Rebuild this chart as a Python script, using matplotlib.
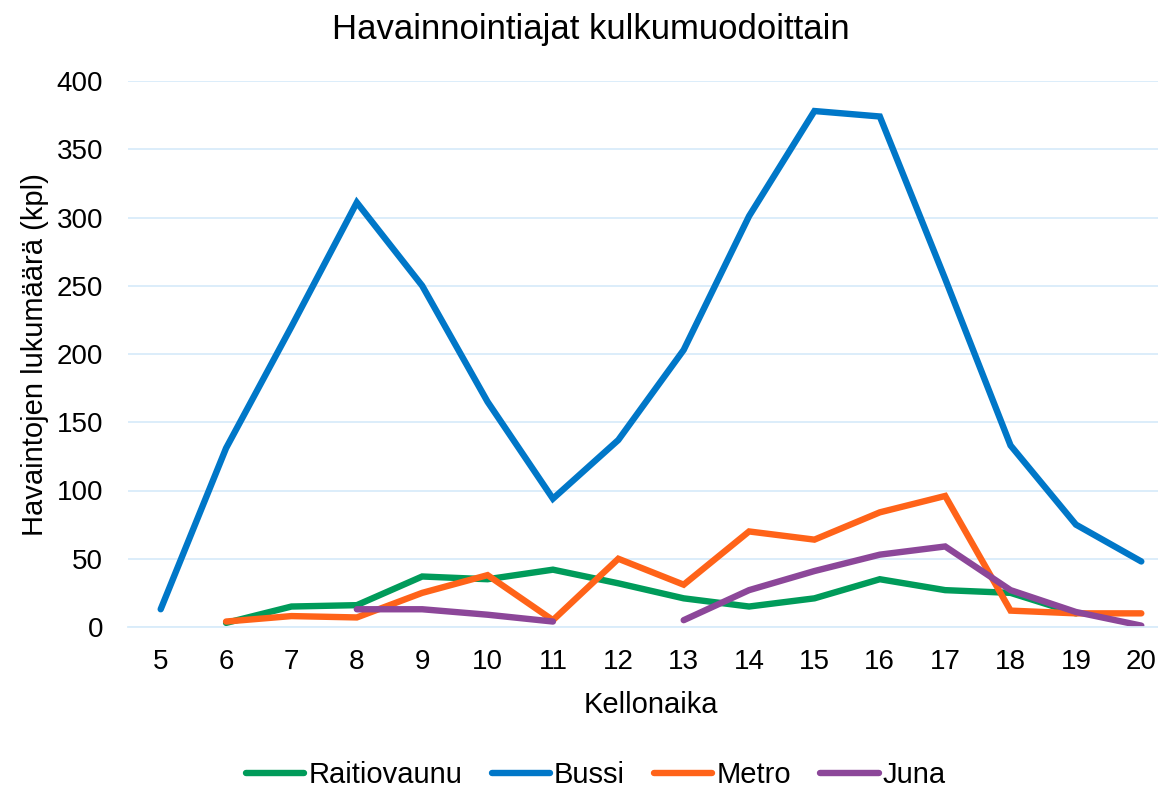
import matplotlib
matplotlib.use("Agg")
import matplotlib.pyplot as plt
import numpy as np

hours = [5, 6, 7, 8, 9, 10, 11, 12, 13, 14, 15, 16, 17, 18, 19, 20]
raitiovaunu = [None, 3, 15, 16, 37, 35, 42, 32, 21, 15, 21, 35, 27, 25, 10, None]
bussi = [13, 131, 220, 311, 250, 165, 94, 137, 203, 301, 378, 374, 255, 133, 75, 48]
metro = [None, 4, 8, 7, 25, 38, 5, 50, 31, 70, 64, 84, 96, 12, 10, 10]
juna = [None, None, None, 13, 13, 9, 4, None, 5, 27, 41, 53, 59, 27, 11, 1]

series = [("Raitiovaunu", raitiovaunu, "#009B5A"),
          ("Bussi", bussi, "#0077C8"),
          ("Metro", metro, "#FF6319"),
          ("Juna", juna, "#8C4799")]

plt.rcParams['font.family'] = ['Liberation Sans', 'DejaVu Sans']

fig = plt.figure(figsize=(11.58, 7.88), dpi=100)
ax = fig.add_axes([128/1158, 1-627/788, (1174-128)/1158, (627-81)/788])

for name, vals, col in series:
    y = np.array([np.nan if v is None else v for v in vals], dtype=float)
    ax.plot(hours, y, color=col, lw=4.6, label=name,
            solid_capstyle='round', solid_joinstyle='miter')

ax.set_xlim(4.5, 20.5)
ax.set_ylim(0, 400)
ax.set_yticks(range(0, 401, 50))
ax.set_xticks(hours)
ax.set_xticklabels([str(h) for h in hours])
ax.grid(axis='y', color='#D9ECFA', lw=1.3)
ax.set_axisbelow(True)
for s in ['top', 'right', 'left']:
    ax.spines[s].set_visible(False)
ax.spines['bottom'].set_color('#D9ECFA')
ax.spines['bottom'].set_linewidth(1.3)
ax.tick_params(length=0, labelsize=20)
ax.tick_params(axis='x', pad=16)
ax.tick_params(axis='y', pad=18)

fig.text(591/1158, 1-30/788, "Havainnointiajat kulkumuodoittain", ha='center', va='center', fontsize=25)
fig.text(651/1158, 1-705/788, "Kellonaika", ha='center', va='center', fontsize=21)
fig.text(35/1158, 1-355/788, "Havaintojen lukumäärä (kpl)", ha='center', va='center', rotation=90, fontsize=21)

fig.legend(loc='center', bbox_to_anchor=(596/1158, 1-775/788), ncol=4, frameon=False,
           fontsize=21, handlelength=2.0, handletextpad=0.14, columnspacing=1.0)

fig.savefig("out.png", dpi=100)
